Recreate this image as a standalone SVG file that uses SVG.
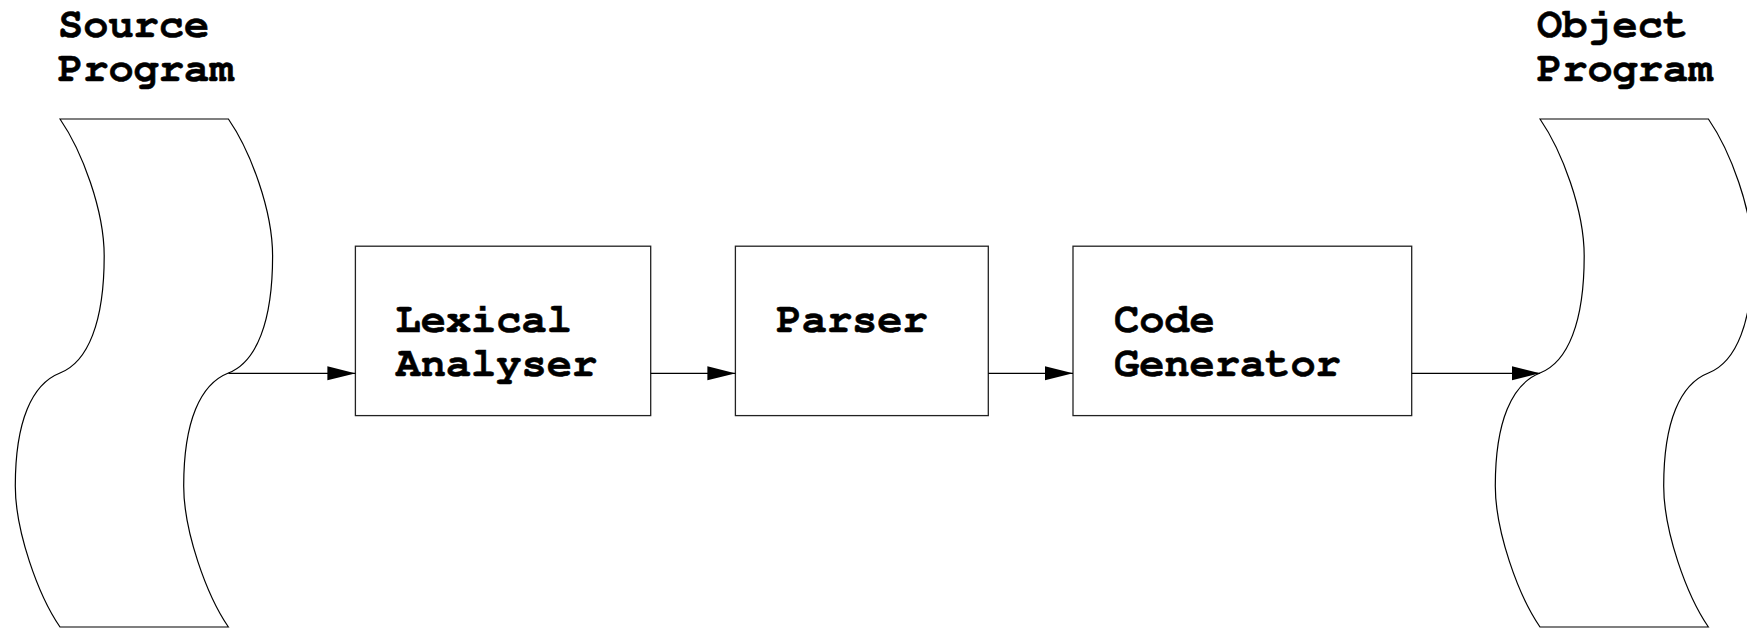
<svg xmlns="http://www.w3.org/2000/svg" width="1747" height="629" viewBox="0 0 1747 629">
  <style>
    .shape { fill: none; stroke: #000; stroke-width: 1.2; }
    .box { fill: #fff; stroke: #222; stroke-width: 1.3; }
    .label { font-family: "Nimbus Mono PS", "FreeMono", "Liberation Mono", "Courier New", monospace; font-weight: bold; font-size: 42px; fill: #000; stroke: #000; stroke-width: 0.6; }
    .conn { stroke: #000; stroke-width: 1.2; fill: none; marker-end: url(#arrow); }
  </style>
  <defs>
    <!-- filled triangular arrowhead, tip at the line end -->
    <marker id="arrow" markerUnits="userSpaceOnUse" markerWidth="28" markerHeight="16" refX="28" refY="7" orient="auto">
      <path d="M0,0 L28,7 L0,14 Z" fill="#000"/>
    </marker>
    <!-- wavy document outline, drawn at the origin of the left file -->
    <path id="wave" d="M60,119 L228.4,119
      C250.4,151 272.6,210 272.6,256
      C272.6,322 256.4,362 228.4,373
      C200.4,384 183.7,421 183.7,486
      C183.7,531 206.4,595 228.4,627
      L60,627
      C38,595 15.3,531 15.3,486
      C15.3,421 32,384 60,373
      C88,362 104.2,322 104.2,256
      C104.2,210 82,151 60,119 Z"/>
  </defs>

  <g id="source-program">
    <use href="#wave" class="shape"/>
    <text class="label" x="58" y="36.5">Source</text>
    <text class="label" x="58" y="80.5">Program</text>
  </g>

  <g id="lexical-analyser">
    <rect class="box" x="355.4" y="246.2" width="295.3" height="169.4"/>
    <text class="label" x="395.5" y="331.5">Lexical</text>
    <text class="label" x="395.5" y="376">Analyser</text>
  </g>

  <g id="parser">
    <rect class="box" x="735.4" y="246.2" width="252.9" height="169.4"/>
    <text class="label" x="776.5" y="331.5">Parser</text>
  </g>

  <g id="code-generator">
    <rect class="box" x="1073" y="246.2" width="338.7" height="169.4"/>
    <text class="label" x="1114" y="331.5">Code</text>
    <text class="label" x="1114" y="376">Generator</text>
  </g>

  <g id="object-program">
    <use href="#wave" class="shape" transform="translate(1480,0)"/>
    <text class="label" x="1537" y="36.5">Object</text>
    <text class="label" x="1537" y="80.5">Program</text>
  </g>

  <g id="connectors">
    <line class="conn" x1="228.4" y1="373.3" x2="355.4" y2="373.3"/>
    <line class="conn" x1="650.7" y1="373.3" x2="735.4" y2="373.3"/>
    <line class="conn" x1="988.3" y1="373.3" x2="1073" y2="373.3"/>
    <line class="conn" x1="1411.7" y1="373.3" x2="1540" y2="373.3"/>
  </g>
</svg>
